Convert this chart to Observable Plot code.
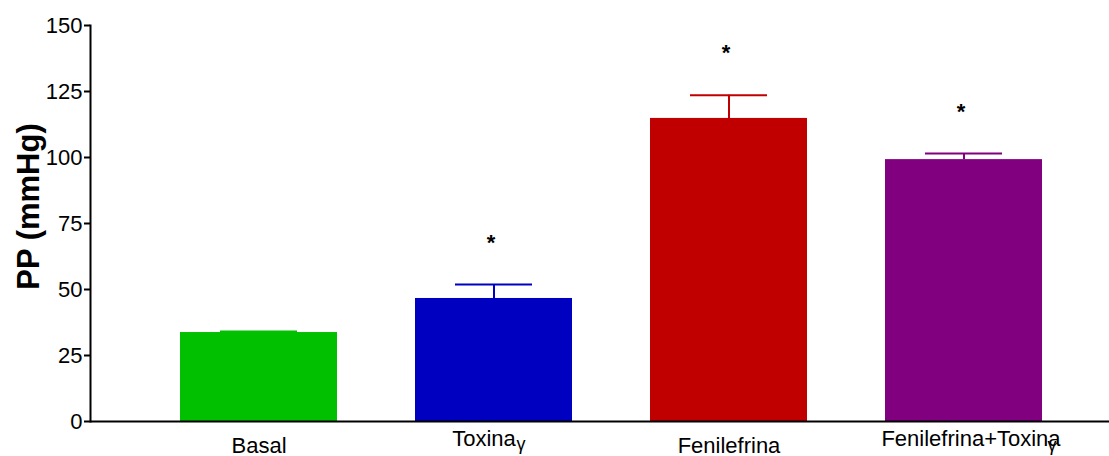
<!DOCTYPE html>
<html><head><meta charset="utf-8">
<script src="https://cdn.jsdelivr.net/npm/d3@7"></script>
<script src="https://cdn.jsdelivr.net/npm/@observablehq/plot@0.6"></script>
<style>body{margin:0;background:#fff;font-family:"Liberation Sans",Arial,sans-serif}</style>
</head><body><div id="chart"></div>
<script>
const groups = ["Basal", "Toxina", "Fenilefrina", "Fenilefrina+Toxina"];
const subscripts = ["", "γ", "", "γ"];
const means = [33.7, 46.6, 114.8, 99.2];
const sems = [0.4, 5.3, 8.8, 2.3];
const significant = [false, true, true, true];
const colors = ["#00c000", "#0000c0", "#c00000", "#800080"];
const yTicks = [0, 25, 50, 75, 100, 125, 150];
const yLabel = "PP (mmHg)";

const data = groups.map((g, i) => ({g, sub: subscripts[i], mean: means[i], top: means[i] + sems[i], sig: significant[i], color: colors[i]}));
const F = "Liberation Sans, Arial, sans-serif";

// label layout (offsets in px relative to band centre)
const lab = {
  "Basal": {dx: 0, dy: 24, sdx: 0, sdy: 0},
  "Toxina": {dx: -10, dy: 17, sdx: 37, sdy: 23},
  "Fenilefrina": {dx: 0, dy: 24, sdx: 0, sdy: 0},
  "Fenilefrina+Toxina": {dx: 7, dy: 17, sdx: 81, sdy: 24}
};

const marks = [
  Plot.barY(data, {x: "g", y: "mean", fill: "color"}),
  Plot.ruleX(data, {x: "g", y1: "mean", y2: "top", stroke: "color", strokeWidth: 2}),
  Plot.tickY(data, {x: "g", y: "top", stroke: "color", strokeWidth: 2, insetLeft: 40, insetRight: 40}),
  Plot.text(data.filter(d => d.sig), {x: "g", y: "top", text: () => "*", dx: -3, dy: -42, fontSize: 22, fontWeight: "bold", fill: "#000"}),
  Plot.axisY({ticks: yTicks, tickSize: 6, tickPadding: 2, fontSize: 22, fontFamily: F, strokeWidth: 2, label: null}),
  Plot.frame({anchor: "left", strokeWidth: 2}),
  Plot.ruleY([0], {stroke: "#000", strokeWidth: 2}),
  Plot.text([yLabel], {frameAnchor: "left", textAnchor: "middle", text: d => d, rotate: -90, dx: -61, dy: -17, fontSize: 31, fontWeight: "bold", fill: "#000"})
];
for (const d of data) {
  const o = lab[d.g];
  marks.push(Plot.text([d], {x: "g", y: 0, text: "g", dx: o.dx, dy: o.dy, fontSize: 22, fill: "#000"}));
  if (d.sub) marks.push(Plot.text([d], {x: "g", y: 0, text: "sub", dx: o.dx + o.sdx, dy: o.sdy, fontSize: 18, fill: "#000"}));
}

const chart = Plot.plot({
  width: 1109, height: 456,
  marginLeft: 90, marginRight: 0, marginTop: 25, marginBottom: 35,
  style: {fontFamily: F, color: "#000", background: "#fff", overflow: "visible"},
  x: {domain: groups, range: [179, 1044], paddingInner: 0.33, paddingOuter: 0, axis: null},
  y: {domain: [0, 150], ticks: yTicks, label: null, axis: null},
  marks
});
document.getElementById("chart").appendChild(chart);
</script></body></html>
